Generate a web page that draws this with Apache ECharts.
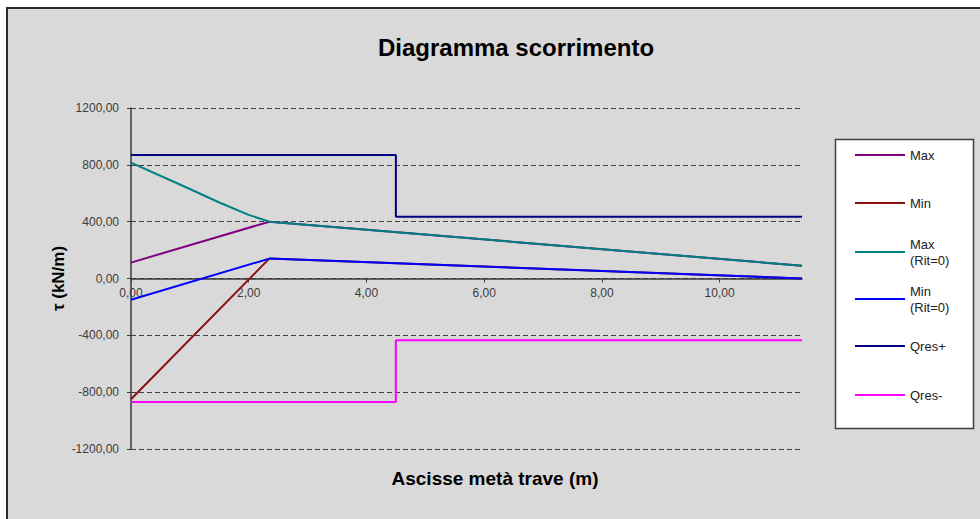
<!DOCTYPE html>
<html>
<head>
<meta charset="utf-8">
<script src="https://cdn.jsdelivr.net/npm/echarts@6/dist/echarts.min.js"></script>
<style>
html,body{margin:0;padding:0;background:#ffffff;}
#main{width:980px;height:519px;}
</style>
</head>
<body>
<div id="main"></div>
<script>
// ---- data ----
const xTicks = { min: 0, max: 11.4, interval: 2 };
const yTicks = { min: -1200, max: 1200, interval: 400 };

const maxX = [0, 2.35, 11.4];
const maxY = [112, 400, 90];

const minX = [0, 2.35, 11.4];
const minY = [-850, 140, 0];

const maxRitX = [0, 1.0, 1.5, 2.0, 2.35, 11.4];
const maxRitY = [815, 630, 535, 448, 400, 90];

const minRitX = [0, 2.35, 11.4];
const minRitY = [-150, 140, 0];

const qresPlusX = [0, 4.5, 4.5, 11.4];
const qresPlusY = [870, 870, 435, 435];

const qresMinusX = [0, 4.5, 4.5, 11.4];
const qresMinusY = [-870, -870, -435, -435];

const seriesNames = ['Max', 'Min', 'Max (Rit=0)', 'Min (Rit=0)', 'Qres+', 'Qres-'];
const legendLabels = ['Max', 'Min', 'Max\n(Rit=0)', 'Min\n(Rit=0)', 'Qres+', 'Qres-'];
const seriesColors = ['#800080', '#8b1010', '#008080', '#0000ff', '#000080', '#ff00ff'];
const seriesX = [maxX, minX, maxRitX, minRitX, qresPlusX, qresMinusX];
const seriesY = [maxY, minY, maxRitY, minRitY, qresPlusY, qresMinusY];

const titleText = 'Diagramma scorrimento';
const xTitle = 'Ascisse metà trave (m)';
const yTitle = 'τ (kN/m)';

// ---- chart ----
function fmt(v) { return v.toFixed(2).replace('.', ','); }
const FONT = '"Liberation Sans", Arial, sans-serif';

const series = seriesNames.map((n, i) => ({
  name: n,
  type: 'line',
  color: seriesColors[i],
  showSymbol: false,
  symbol: 'none',
  animation: false,
  lineStyle: { width: 2, color: seriesColors[i] },
  data: seriesX[i].map((x, j) => [x, seriesY[i][j]]),
  z: 2 + i
}));

const legendCenters = [155, 203, 252, 299, 346, 395];
const LH = 16;
const legends = seriesNames.map((n, i) => {
  const two = legendLabels[i].indexOf('\n') >= 0;
  return {
    data: [n],
    orient: 'vertical',
    left: 855,
    top: two ? legendCenters[i] - 1.5 * LH : legendCenters[i] - LH / 2,
    padding: 0,
    icon: 'rect',
    itemWidth: 50,
    itemHeight: 2,
    selectedMode: false,
    z: 5,
    formatter: () => legendLabels[i],
    textStyle: {
      fontFamily: FONT, fontSize: 13, color: '#222', lineHeight: LH,
      padding: two ? [LH, 0, 0, 0] : 0
    }
  };
});

const GRID_TOP = 108, GRID_BOTTOM = 70, H = 519;
const plotH = H - GRID_TOP - GRID_BOTTOM;

const chart = echarts.init(document.getElementById('main'), null, { renderer: 'svg' });
chart.setOption({
  backgroundColor: '#ffffff',
  animation: false,
  grid: { left: 131, right: 178, top: GRID_TOP, bottom: GRID_BOTTOM, containLabel: false },
  graphic: [
    { type: 'rect', z: -10, shape: { x: 7, y: 8, width: 1000, height: 600 },
      style: { fill: '#d9d9d9', stroke: '#2a2a2a', lineWidth: 2 } },
    { type: 'rect', z: 1, shape: { x: 835.5, y: 139.5, width: 138, height: 289 },
      style: { fill: '#ffffff', stroke: '#404040', lineWidth: 1.5 } },
    { type: 'text', z: 3, x: 516, y: 47,
      style: { text: titleText, align: 'center', verticalAlign: 'middle',
               font: 'bold 24px ' + FONT, fill: '#000' } },
    { type: 'text', z: 3, x: 495, y: 478,
      style: { text: xTitle, align: 'center', verticalAlign: 'middle',
               font: 'bold 19px ' + FONT, fill: '#000' } }
  ],
  legend: legends,
  xAxis: {
    type: 'value',
    min: xTicks.min, max: xTicks.max, interval: xTicks.interval,
    offset: -plotH / 2,
    axisLine: { onZero: false, lineStyle: { color: '#3a3a3a', width: 1.5 } },
    axisTick: { show: true, length: 4, lineStyle: { color: '#3a3a3a' } },
    axisLabel: { formatter: fmt, showMaxLabel: false, margin: 8,
                 fontFamily: FONT, fontSize: 12, color: '#3c3c3c' },
    splitLine: { show: false }
  },
  yAxis: {
    type: 'value',
    min: yTicks.min, max: yTicks.max, interval: yTicks.interval,
    name: yTitle, nameLocation: 'middle', nameGap: 64, nameMoveOverlap: false,
    nameTextStyle: { fontFamily: FONT, fontSize: 17, fontWeight: 'bold', color: '#000' },
    axisLine: { show: true, lineStyle: { color: '#3a3a3a', width: 1.5 } },
    axisTick: { show: true, length: 4, lineStyle: { color: '#3a3a3a' } },
    axisLabel: { formatter: fmt, margin: 12, fontFamily: FONT, fontSize: 12, color: '#3c3c3c' },
    splitLine: { show: true, lineStyle: { color: '#404040', width: 1.2, type: [5, 3] } }
  },
  series: series
});
</script>
</body>
</html>
